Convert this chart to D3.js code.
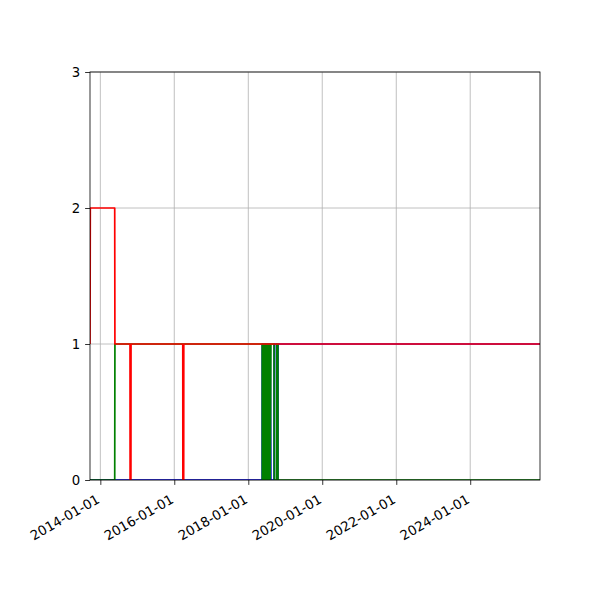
<!DOCTYPE html>
<html><head><meta charset="utf-8">
<script src="https://cdn.jsdelivr.net/npm/d3@7"></script>
<style>body{margin:0;background:#fff}svg{display:block;font-family:"DejaVu Sans",sans-serif}</style>
</head><body><div id="chart"></div>
<script>
// ---- data ----
const xStart = "2013-09-21";
const xEnd = "2025-11-20";
const yTicks = [0, 1, 2, 3];
const xTickLabels = ["2014-01-01","2016-01-01","2018-01-01","2020-01-01","2022-01-01","2024-01-01"];

const blueDates = ["2013-09-21","2018-05-18",
  "2018-05-19","2018-05-22","2018-05-26","2018-05-30","2018-06-03","2018-06-07","2018-06-11","2018-06-15",
  "2018-06-19","2018-06-23","2018-06-27","2018-07-01","2018-07-05","2018-07-09","2018-07-13","2018-07-17",
  "2018-07-21","2018-07-25","2018-07-29","2018-08-02","2018-08-06","2018-08-12",
  "2018-09-12","2018-09-14","2018-10-06","2018-10-08","2018-10-20","2018-10-21","2025-11-20"];
const blueValues = [0,0,
  1,0,1,0,1,0,1,0,
  1,0,1,0,1,0,1,0,
  1,0,1,0,1,0,
  0,1,1,0,0,1,1];

const greenDates = ["2013-09-21","2014-05-23","2014-05-25","2018-05-18",
  "2018-05-19","2018-05-22","2018-05-26","2018-05-30","2018-06-03","2018-06-07","2018-06-11","2018-06-15",
  "2018-06-19","2018-06-23","2018-06-27","2018-07-01","2018-07-05","2018-07-09","2018-07-13","2018-07-17",
  "2018-07-21","2018-07-25","2018-07-29","2018-08-02","2018-08-06","2018-08-12",
  "2018-09-12","2018-09-14","2018-10-06","2018-10-08","2018-10-20","2018-10-21","2025-11-20"];
const greenValues = [0,0,1,1,
  0,1,0,1,0,1,0,1,
  0,1,0,1,0,1,0,1,
  0,1,0,1,0,1,
  1,0,0,1,1,0,0];

const redDates = ["2013-09-21","2013-09-24","2014-05-23","2014-05-25",
  "2014-10-21","2014-10-22","2014-10-30","2014-10-31",
  "2016-03-25","2016-03-26","2016-04-03","2016-04-04","2025-11-20"];
const redValues = [1,2,2,1,
  1,0,0,1,
  1,0,0,1,1];

// ---- drawing ----
const W = 600, H = 600;
const m = {left: 90, right: 540, top: 72, bottom: 480};
const parse = d3.utcParse("%Y-%m-%d");
const svg = d3.select("#chart").append("svg").attr("width", W).attr("height", H);

const x = d3.scaleUtc().domain([parse(xStart), parse(xEnd)]).range([m.left, m.right]);
const y = d3.scaleLinear().domain([0, 3]).range([m.bottom, m.top]);
const xTicks = xTickLabels.map(parse);

// grid
const grid = svg.append("g");
grid.selectAll(".gx").data(xTicks).enter().append("line")
  .attr("x1", d => x(d)).attr("x2", d => x(d)).attr("y1", m.top).attr("y2", m.bottom)
  .attr("stroke", "#b0b0b0").attr("stroke-width", 0.8);
grid.selectAll(".gy").data(yTicks).enter().append("line")
  .attr("x1", m.left).attr("x2", m.right).attr("y1", d => y(d)).attr("y2", d => y(d))
  .attr("stroke", "#b0b0b0").attr("stroke-width", 0.8);

// clip
svg.append("clipPath").attr("id", "clip").append("rect")
  .attr("x", m.left).attr("y", m.top).attr("width", m.right - m.left).attr("height", m.bottom - m.top);

const line = d3.line().x(d => x(d[0])).y(d => y(d[1]));
const series = [
  {dates: blueDates, values: blueValues, color: "#0000ff"},
  {dates: greenDates, values: greenValues, color: "#008000"},
  {dates: redDates, values: redValues, color: "#ff0000"}
];
const lg = svg.append("g").attr("clip-path", "url(#clip)");
series.forEach(s => {
  const pts = s.dates.map((d, i) => [parse(d), s.values[i]]);
  lg.append("path").attr("d", line(pts)).attr("fill", "none")
    .attr("stroke", s.color).attr("stroke-width", 1.7)
    .attr("stroke-linejoin", "round").attr("stroke-linecap", "butt");
});

// axes
const xAxis = svg.append("g").attr("transform", `translate(0,${m.bottom})`)
  .call(d3.axisBottom(x).tickValues(xTicks).tickSize(4.9).tickFormat(""));
xAxis.select(".domain").remove();
xAxis.selectAll("line").attr("stroke", "#000").attr("stroke-width", 0.8);
const yAxis = svg.append("g").attr("transform", `translate(${m.left},0)`)
  .call(d3.axisLeft(y).tickValues(yTicks).tickSize(4.9).tickFormat(d3.format("d")).tickPadding(4.9));
yAxis.select(".domain").remove();
yAxis.selectAll("line").attr("stroke", "#000").attr("stroke-width", 0.8);
yAxis.selectAll("text").attr("font-size", "13.3px").attr("fill", "#000").attr("font-family", "DejaVu Sans");

// rotated x labels
svg.append("g").selectAll("text").data(xTicks).enter().append("text")
  .attr("transform", d => `translate(${x(d) - 2},${m.bottom + 18}) rotate(-30)`)
  .attr("text-anchor", "end").attr("font-size", "13.3px").attr("fill", "#000")
  .attr("dy", "0.35em")
  .text((d, i) => xTickLabels[i]);

// spines
svg.append("rect").attr("x", m.left).attr("y", m.top)
  .attr("width", m.right - m.left).attr("height", m.bottom - m.top)
  .attr("fill", "none").attr("stroke", "#000").attr("stroke-width", 0.8);
</script></body></html>
